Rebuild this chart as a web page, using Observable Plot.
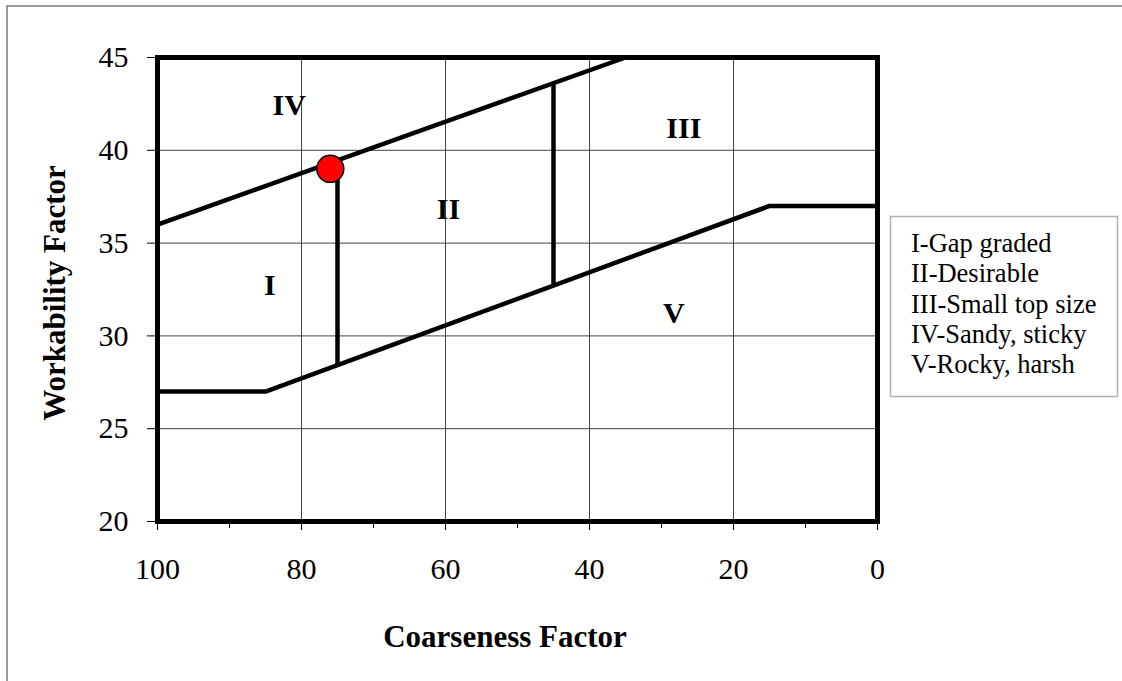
<!DOCTYPE html>
<html>
<head>
<meta charset="utf-8">
<script src="https://cdn.jsdelivr.net/npm/d3@7"></script>
<script src="https://cdn.jsdelivr.net/npm/@observablehq/plot@0.6"></script>
<style>
  html, body { margin: 0; padding: 0; background: white; }
  #chart svg { display: block; }
</style>
</head>
<body>
<div id="chart"></div>
<script>
// ---- Data ----
const xTicks = [100, 80, 60, 40, 20, 0];
const xMinorTicks = [90, 70, 50, 30, 10];
const yTicks = [20, 25, 30, 35, 40, 45];
const xGrid = [80, 60, 40, 20];
const yGrid = [25, 30, 35, 40];

const upperX = [100, 35];
const upperY = [36, 45];
const lowerX = [100, 85, 15, 0];
const lowerY = [27, 27, 37, 37];

const dividerX = [75, 45];
const dividerBottom = [28.4, 32.7];
const dividerTop = [39.5, 43.5];

const pointX = [76];
const pointY = [39];

const zoneNames = ["I", "II", "III", "IV", "V"];
const zoneX = [84.4, 59.6, 26.9, 81.7, 28.3];
const zoneY = [32.7, 36.8, 41.2, 42.4, 31.2];

const legendItems = ["I-Gap graded", "II-Desirable", "III-Small top size", "IV-Sandy, sticky", "V-Rocky, harsh"];

const xTitle = "Coarseness Factor";
const yTitle = "Workability Factor";

// ---- Tables ----
const upper = upperX.map((x, i) => ({x, y: upperY[i]}));
const lower = lowerX.map((x, i) => ({x, y: lowerY[i]}));
const dividers = dividerX.map((x, i) => ({x, y1: dividerBottom[i], y2: dividerTop[i]}));
const points = pointX.map((x, i) => ({x, y: pointY[i]}));
const zones = zoneNames.map((name, i) => ({name, x: zoneX[i], y: zoneY[i]}));

const FONT = "'Liberation Serif', 'Times New Roman', serif";

const plot = Plot.plot({
  width: 1122,
  height: 681,
  marginLeft: 157,
  marginRight: 245,
  marginTop: 57,
  marginBottom: 160,
  x: {domain: [100, 0]},
  y: {domain: [20, 45]},
  style: {fontFamily: FONT, background: "white", color: "black"},
  marks: [
    Plot.gridX(xGrid, {stroke: "#444", strokeOpacity: 1, strokeWidth: 1}),
    Plot.gridY(yGrid, {stroke: "#444", strokeOpacity: 1, strokeWidth: 1}),
    Plot.axisY({ticks: yTicks, tickSize: 10, tickPadding: 19, fontSize: 30, tickFormat: d => String(d), label: null}),
    Plot.axisX({ticks: xTicks, tickSize: 9, tickPadding: 27, fontSize: 30, tickFormat: d => String(d), label: null}),
    Plot.axisX({ticks: xMinorTicks, tickSize: 7, tickFormat: () => "", label: null}),
    Plot.line(upper, {x: "x", y: "y", stroke: "black", strokeWidth: 4.5}),
    Plot.line(lower, {x: "x", y: "y", stroke: "black", strokeWidth: 4.5}),
    Plot.ruleX(dividers, {x: "x", y1: "y1", y2: "y2", stroke: "black", strokeWidth: 4.5}),
    Plot.frame({stroke: "black", strokeWidth: 5}),
    Plot.dot(points, {x: "x", y: "y", r: 13.5, fill: "#ff0000", stroke: "black", strokeWidth: 1.5}),
    Plot.text(zones, {x: "x", y: "y", text: "name", fontSize: 30, fontWeight: "bold", fill: "black"})
  ]
});

document.getElementById("chart").appendChild(plot);

const svg = d3.select(plot);

// Outer chart-area border (left & top visible)
svg.append("rect")
  .attr("x", 7).attr("y", 6)
  .attr("width", 1200).attr("height", 800)
  .attr("fill", "none").attr("stroke", "#808080").attr("stroke-width", 1.6);

// Axis titles
svg.append("text")
  .attr("x", 505).attr("y", 647)
  .attr("text-anchor", "middle")
  .attr("font-family", FONT).attr("font-weight", "bold").attr("font-size", 31)
  .attr("fill", "black")
  .text(xTitle);

svg.append("text")
  .attr("transform", "translate(65,293) rotate(-90)")
  .attr("text-anchor", "middle")
  .attr("font-family", FONT).attr("font-weight", "bold").attr("font-size", 31)
  .attr("fill", "black")
  .text(yTitle);

// Legend
const lg = svg.append("g").attr("text-anchor", "start");
lg.append("rect")
  .attr("x", 890.5).attr("y", 216.5)
  .attr("width", 227).attr("height", 180)
  .attr("fill", "white").attr("stroke", "#b0b0b0").attr("stroke-width", 1.5);
legendItems.forEach((t, i) => {
  lg.append("text")
    .attr("x", 911).attr("y", 252 + i * 30.3)
    .attr("text-anchor", "start")
    .attr("font-family", FONT).attr("font-size", 26.5)
    .attr("fill", "black")
    .text(t);
});
</script>
</body>
</html>
